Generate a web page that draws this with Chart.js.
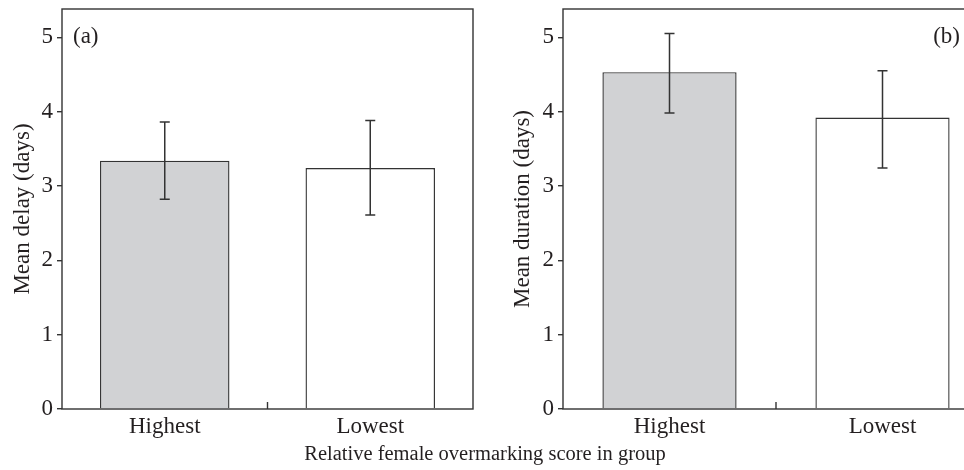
<!DOCTYPE html>
<html>
<head>
<meta charset="utf-8">
<script src="https://cdn.jsdelivr.net/npm/chart.js@4.4.0/dist/chart.umd.min.js"></script>
<style>
  html, body { margin: 0; padding: 0; background: #fff; overflow: hidden; width: 964px; height: 470px; }
  #wrapA { position: absolute; left: 0; top: 0; }
  #wrapB { position: absolute; left: 480px; top: 0; }
  #xtitle { position: absolute; left: 3px; width: 964px; top: 442px; text-align: center;
            font: 20.5px "Liberation Serif", serif; color: #231f20; }
</style>
</head>
<body>
<div id="wrapA"><canvas id="chartA" width="478" height="470"></canvas></div>
<div id="wrapB"><canvas id="chartB" width="510" height="470"></canvas></div>
<div id="xtitle">Relative female overmarking score in group</div>

<script>
// data
const groups = ['Highest', 'Lowest'];
const yTicks = [0, 1, 2, 3, 4, 5];

const delayMean = [3.34, 3.24];
const delayLow = [2.82, 2.61];
const delayHigh = [3.86, 3.88];

const durationMean = [4.53, 3.92];
const durationLow = [3.98, 3.24];
const durationHigh = [5.05, 4.55];

const barFills = ['#d1d2d4', '#ffffff'];
const ink = '#231f20';
const lineCol = '#333333';
const serif = '"Liberation Serif", serif';

// frame, error bars, middle x tick and the panel letter
const extras = {
    id: 'extras',
    afterDatasetsDraw(chart, args, opts) {
        const ctx = chart.ctx;
        const area = chart.chartArea;
        const xs = chart.scales.x;
        const ys = chart.scales.y;
        const meta = chart.getDatasetMeta(0);
        ctx.save();
        ctx.strokeStyle = lineCol;
        ctx.lineWidth = 1.5;

        // error bars
        opts.low.forEach((lo, i) => {
            const x = meta.data[i].x;
            const y1 = ys.getPixelForValue(lo);
            const y2 = ys.getPixelForValue(opts.high[i]);
            ctx.beginPath();
            ctx.moveTo(x, y1); ctx.lineTo(x, y2);
            ctx.moveTo(x - 5, y1); ctx.lineTo(x + 5, y1);
            ctx.moveTo(x - 5, y2); ctx.lineTo(x + 5, y2);
            ctx.stroke();
        });

        // box round the plot
        ctx.lineWidth = 1.4;
        ctx.strokeRect(area.left, area.top, area.right - area.left, area.bottom - area.top);

        // small inward tick between the two groups
        const mid = (xs.getPixelForValue(0) + xs.getPixelForValue(1)) / 2;
        ctx.beginPath();
        ctx.moveTo(mid, area.bottom); ctx.lineTo(mid, area.bottom - 7);
        ctx.stroke();

        // panel letter
        ctx.fillStyle = ink;
        ctx.font = '23px ' + serif;
        ctx.textBaseline = 'middle';
        ctx.textAlign = opts.align;
        ctx.fillText(opts.label, opts.align === 'left' ? area.left + opts.dx : area.right - opts.dx, ys.getPixelForValue(5));
        ctx.restore();
    }
};

function makeChart(id, values, low, high, yTitle, label, align, dx, axisWidth, titlePad, padRight) {
    return new Chart(document.getElementById(id), {
        type: 'bar',
        data: {
            labels: groups,
            datasets: [{
                data: values,
                backgroundColor: barFills,
                borderColor: lineCol,
                borderWidth: 1.4,
                categoryPercentage: 1,
                barPercentage: 0.63
            }]
        },
        options: {
            responsive: false,
            animation: false,
            layout: { padding: { top: 9, right: padRight, left: 0, bottom: 0 } },
            plugins: {
                legend: { display: false },
                tooltip: { enabled: false },
                extras: { low: low, high: high, label: label, align: align, dx: dx }
            },
            scales: {
                x: {
                    type: 'category',
                    offset: true,
                    grid: { display: true, drawOnChartArea: false, drawTicks: false },
                    border: { display: false },
                    ticks: { color: ink, font: { family: serif, size: 23 }, padding: 4 },
                    afterFit(s) { s.height = 61; s.paddingLeft = 0; s.paddingRight = 0; }
                },
                y: {
                    min: 0,
                    max: 5.38,
                    afterBuildTicks(s) { s.ticks = yTicks.map(v => ({ value: v })); },
                    grid: { drawOnChartArea: false, drawTicks: true, tickLength: 5, color: lineCol, lineWidth: 1.4 },
                    border: { display: false },
                    ticks: { color: ink, font: { family: serif, size: 23 }, padding: 4 },
                    title: { display: true, text: yTitle, color: ink, font: { family: serif, size: 23 }, padding: { top: titlePad, bottom: 0 } },
                    afterFit(s) { s.width = axisWidth; s.paddingTop = 0; s.paddingBottom = 0; }
                }
            }
        },
        plugins: [extras]
    });
}

makeChart('chartA', delayMean, delayLow, delayHigh, 'Mean delay (days)', '(a)', 'left', 11, 62, 9, 5);
makeChart('chartB', durationMean, durationLow, durationHigh, 'Mean duration (days)', '(b)', 'right', 29, 83, 29, 1);
</script>
</body>
</html>
